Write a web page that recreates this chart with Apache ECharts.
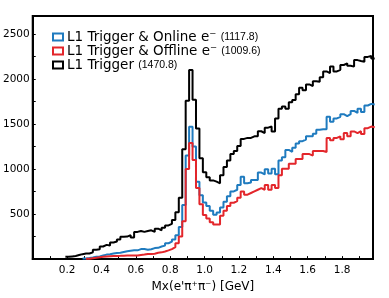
<!DOCTYPE html>
<html>
<head>
<meta charset="utf-8">
<script src="https://cdn.jsdelivr.net/npm/echarts@6/dist/echarts.min.js"></script>
<style>html,body{margin:0;padding:0;background:#fff;}#c{width:389px;height:298px;}</style>
</head>
<body>
<div id="c"></div>
<script>
// Histogram bins: first bin centre and bin width (GeV)
const firstBinCenter = 0.20;
const binWidth = 0.02;

const seriesNames = ['L1 Trigger & Online e⁻', 'L1 Trigger & Offline e⁻', 'L1 Trigger'];
const seriesTotals = ['1117.8', '1009.6', '1470.8'];
const seriesColors = ['#1f7bbf', '#e3262b', '#000000'];

// counts per bin, bins centred at 0.20, 0.22, ... 1.98
const onlineCounts = [
  null, null, null, null, null, 8, 12, 18, 25, 30,
  40, 50, 55, 62, 68, 70, 79, 86, 93, 97,
  97, 111, 111, 104, 110, 122, 125, 140, 150, 176,
  194, 219, 266, 356, 600, 1150, 1470, 1250, 860, 710,
  630, 590, 536, 493, 518, 572, 637, 698, 752, 770,
  824, 914, 842, 850, 878, 878, 961, 940, 997, 950,
  1004, 943, 1094, 1130, 1213, 1191, 1238, 1285, 1310, 1328,
  1364, 1364, 1393, 1436, 1443, 1443, 1580, 1526, 1562, 1580,
  1609, 1587, 1609, 1645, 1623, 1670, 1634, 1706, 1724, 1718
];
const offlineCounts = [
  null, null, null, null, null, null, 5, 10, 15, 20,
  25, 30, 32, 34, 35, 36, 38, 39, 39, 39,
  40, 46, 50, 57, 57, 60, 70, 75, 85, 97,
  111, 133, 176, 250, 420, 1000, 1290, 1100, 790, 610,
  490, 450, 410, 385, 385, 482, 536, 590, 626, 644,
  680, 752, 716, 734, 752, 770, 788, 770, 824, 770,
  824, 790, 932, 1004, 1004, 1058, 1058, 1112, 1112, 1166,
  1166, 1150, 1202, 1200, 1200, 1190, 1346, 1320, 1346, 1364,
  1330, 1400, 1364, 1418, 1400, 1420, 1390, 1454, 1472, 1465
];
const triggerCounts = [
  25, 30, 35, 45, 55, 62, 62, 75, 104, 110,
  140, 158, 150, 184, 195, 219, 248, 250, 266, 240,
  302, 313, 302, 313, 320, 302, 338, 320, 349, 374,
  392, 435, 520, 680, 1220, 1760, 2100, 1770, 1450, 1120,
  964, 910, 874, 860, 842, 932, 1022, 1094, 1166, 1202,
  1256, 1335, 1346, 1346, 1364, 1364, 1420, 1400, 1460, 1472,
  1418, 1562, 1670, 1694, 1670, 1742, 1767, 1832, 1904, 1875,
  1940, 1922, 1976, 1970, 2020, 2084, 2066, 2138, 2084, 2102,
  2156, 2174, 2148, 2138, 2210, 2200, 2192, 2246, 2257, 2228
];

function toSteps(counts) {
  const pts = [];
  let last = null, lastEdge = null;
  counts.forEach((v, i) => {
    if (v == null) return;
    const left = firstBinCenter + i * binWidth - binWidth / 2;
    pts.push([+left.toFixed(4), v]);
    last = v; lastEdge = left + binWidth;
  });
  if (last != null) pts.push([+lastEdge.toFixed(4), last]);
  return pts;
}

const allCounts = [onlineCounts, offlineCounts, triggerCounts];
const FONT = 'DejaVu Sans';

const chart = echarts.init(document.getElementById('c'), null, {renderer: 'canvas'});
const series = [2, 0, 1].map(k => ({
  name: seriesNames[k],
  type: 'line',
  step: 'end',
  symbol: 'none',
  data: toSteps(allCounts[k]),
  lineStyle: {color: seriesColors[k], width: 2},
  itemStyle: {color: seriesColors[k]},
  z: 3
}));

chart.setOption({
  animation: false,
  backgroundColor: '#fff',
  grid: {left: 32, right: 16, top: 16, bottom: 32, show: true, borderColor: '#000', borderWidth: 2, containLabel: false},
  legend: {
    orient: 'vertical',
    left: 47,
    top: 25,
    icon: 'rect',
    itemWidth: 10,
    itemHeight: 7,
    itemGap: 0,
    data: [0, 1, 2].map(k => ({
      name: seriesNames[k],
      itemStyle: {color: '#fff', borderColor: seriesColors[k], borderWidth: 2}
    })),
    formatter: name => name + ' {s|(' + seriesTotals[seriesNames.indexOf(name)] + ')}',
    textStyle: {
      fontFamily: FONT, fontSize: 13.5, color: '#000', lineHeight: 14, padding: [0, 0, 0, -1],
      rich: {s: {fontFamily: 'Liberation Sans', fontSize: 10.5, color: '#000', lineHeight: 14}}
    }
  },
  xAxis: {
    type: 'value',
    min: 0,
    max: 1.98,
    interval: 0.2,
    name: "Mx(e'π⁺π⁻) [GeV]",
    nameLocation: 'middle',
    nameGap: 19,
    nameTextStyle: {fontFamily: FONT, fontSize: 12, color: '#000'},
    axisLine: {show: true, onZero: false, lineStyle: {color: '#000', width: 2}},
    axisTick: {show: true, inside: true, length: 3, lineStyle: {color: '#000', width: 1}},
    minorTick: {show: true, splitNumber: 2, length: 3, lineStyle: {color: '#000', width: 1}},
    splitLine: {show: false},
    axisLabel: {
      fontFamily: FONT, fontSize: 10.5, color: '#000', margin: 6,
      formatter: v => {
        const r = Math.round(v * 10);
        if (v < 0.05 || v > 1.85 || r % 2 !== 0 || Math.abs(v * 10 - r) > 1e-6) return '';
        return v.toFixed(1);
      }
    }
  },
  yAxis: {
    type: 'value',
    min: 0,
    max: 2700,
    interval: 500,
    axisLine: {show: true, onZero: false, lineStyle: {color: '#000', width: 2}},
    axisTick: {show: true, inside: true, length: 3, lineStyle: {color: '#000', width: 1}},
    minorTick: {show: true, splitNumber: 2, length: 3, lineStyle: {color: '#000', width: 1}},
    splitLine: {show: false},
    axisLabel: {
      fontFamily: FONT, fontSize: 10.5, color: '#000', margin: 3,
      formatter: v => (v > 0 && v % 500 === 0) ? String(v) : ''
    }
  },
  series: series
});
</script>
</body>
</html>
